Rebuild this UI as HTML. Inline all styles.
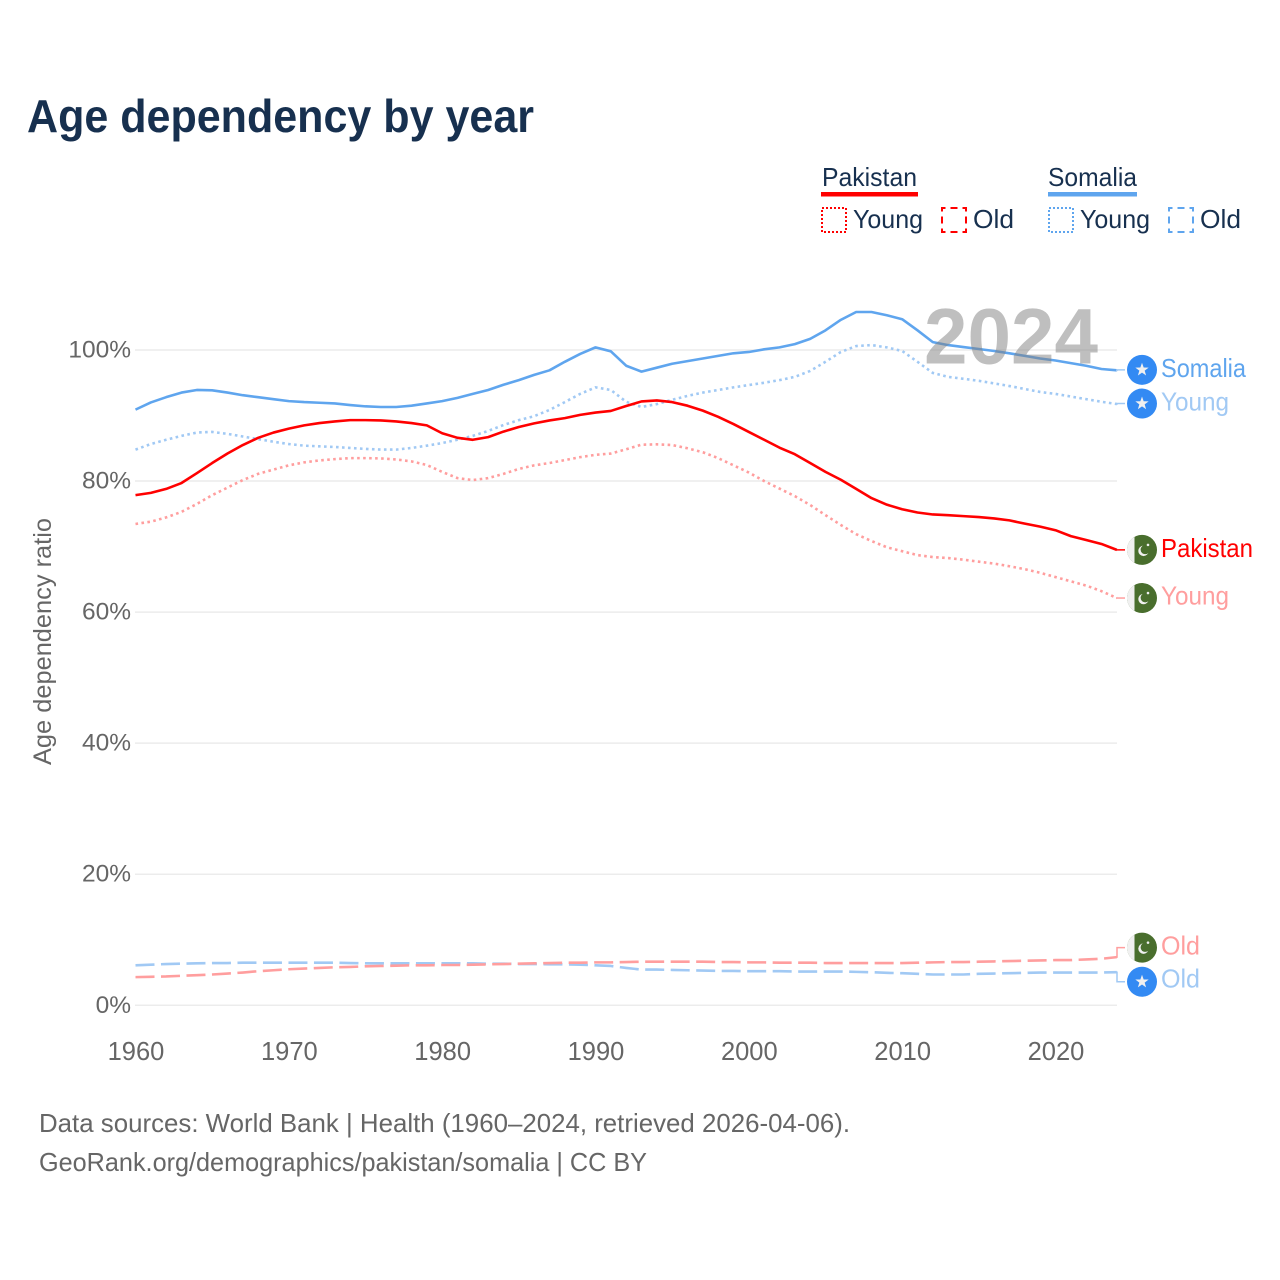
<!DOCTYPE html>
<html lang="en">
<head>
<meta charset="utf-8">
<title>Age dependency by year</title>
<style>
html,body{margin:0;padding:0;background:#fff}
svg{display:block}
text{font-family:"Liberation Sans",sans-serif}
</style>
</head>
<body>
<svg id="chart" xmlns="http://www.w3.org/2000/svg" width="1280" height="1280" viewBox="0 0 1280 1280">
  <rect x="0" y="0" width="1280" height="1280" fill="#fff"/>
  <text x="27" y="132" font-size="46" font-weight="700" fill="#17304f" textLength="507" lengthAdjust="spacingAndGlyphs">Age dependency by year</text>

  <g font-size="26" fill="#17304f">
    <g>
      <text x="822" y="186" textLength="95" lengthAdjust="spacingAndGlyphs">Pakistan</text>
      <rect x="821" y="192" width="97" height="4.5" fill="#ff0000"/>
    </g>
    <g>
      <rect x="822" y="208" width="24" height="24" fill="none" stroke="#ff0000" stroke-width="2" stroke-dasharray="2 2"/>
      <text x="853" y="228" textLength="70" lengthAdjust="spacingAndGlyphs">Young</text>
    </g>
    <g>
      <rect x="942" y="208" width="24" height="24" fill="none" stroke="#ff0000" stroke-width="2" stroke-dasharray="7 5" stroke-dashoffset="3.5"/>
      <text x="973" y="228" textLength="41" lengthAdjust="spacingAndGlyphs">Old</text>
    </g>
    <g>
      <text x="1048" y="186" textLength="89" lengthAdjust="spacingAndGlyphs">Somalia</text>
      <rect x="1048" y="192" width="89" height="4.5" fill="#5fa5ee"/>
    </g>
    <g>
      <rect x="1049" y="208" width="24" height="24" fill="none" stroke="#5fa5ee" stroke-width="2" stroke-dasharray="2 2"/>
      <text x="1080" y="228" textLength="70" lengthAdjust="spacingAndGlyphs">Young</text>
    </g>
    <g>
      <rect x="1169" y="208" width="24" height="24" fill="none" stroke="#5fa5ee" stroke-width="2" stroke-dasharray="7 5" stroke-dashoffset="3.5"/>
      <text x="1200" y="228" textLength="41" lengthAdjust="spacingAndGlyphs">Old</text>
    </g>
  </g>

  <g id="grid"></g>
  <g id="series"></g>
  <g id="end-labels"></g>

  <text x="924" y="363.5" font-size="79" font-weight="700" fill="#808080" fill-opacity="0.5" textLength="174" lengthAdjust="spacingAndGlyphs">2024</text>

  <text transform="translate(51,641.5) rotate(-90)" text-anchor="middle" font-size="25" fill="#666" textLength="247" lengthAdjust="spacingAndGlyphs">Age dependency ratio</text>

  <g font-size="26" fill="#666">
    <text x="39" y="1132" textLength="811" lengthAdjust="spacingAndGlyphs">Data sources: World Bank | Health (1960–2024, retrieved 2026-04-06).</text>
    <text x="39" y="1171" textLength="608" lengthAdjust="spacingAndGlyphs">GeoRank.org/demographics/pakistan/somalia | CC BY</text>
  </g>
</svg>

<script>
const startYear = 1960;
const endYear = 2024;
const xTicks = [1960, 1970, 1980, 1990, 2000, 2010, 2020];
const yTicks = [0, 20, 40, 60, 80, 100];

const somaliaTotal = [90.9,92.0,92.8,93.5,93.9,93.85,93.5,93.1,92.8,92.5,92.2,92.05,91.95,91.85,91.6,91.4,91.3,91.3,91.5,91.85,92.2,92.7,93.3,93.9,94.7,95.4,96.2,96.9,98.2,99.4,100.4,99.8,97.6,96.7,97.3,97.9,98.3,98.7,99.1,99.5,99.7,100.1,100.4,100.9,101.7,103.0,104.6,105.8,105.8,105.3,104.7,103.0,101.2,100.75,100.45,100.15,99.85,99.5,99.1,98.7,98.4,98.0,97.6,97.1,96.9];
const somaliaYoung = [84.8,85.65,86.3,86.9,87.4,87.5,87.2,86.8,86.4,86.0,85.65,85.4,85.3,85.2,85.05,84.9,84.8,84.8,85.05,85.4,85.8,86.3,86.9,87.65,88.55,89.3,89.9,90.85,92.05,93.3,94.3,93.9,92.1,91.3,91.75,92.4,93.0,93.5,93.9,94.3,94.65,95.0,95.4,95.9,96.8,98.2,99.7,100.6,100.75,100.4,99.85,98.2,96.5,95.9,95.6,95.3,94.9,94.5,94.05,93.6,93.3,92.9,92.5,92.1,91.75];
const somaliaOld = [6.1,6.2,6.3,6.35,6.4,6.45,6.45,6.5,6.5,6.5,6.5,6.5,6.5,6.5,6.45,6.4,6.4,6.4,6.4,6.4,6.4,6.4,6.4,6.35,6.35,6.3,6.3,6.25,6.25,6.2,6.1,6.0,5.7,5.45,5.45,5.4,5.35,5.3,5.25,5.25,5.2,5.2,5.2,5.15,5.15,5.15,5.15,5.1,5.05,4.95,4.9,4.8,4.7,4.7,4.7,4.8,4.85,4.9,4.95,5.0,5.0,5.0,5.0,5.0,5.05];
const pakistanTotal = [77.85,78.2,78.8,79.7,81.2,82.75,84.2,85.5,86.6,87.4,88.0,88.5,88.85,89.1,89.3,89.3,89.25,89.1,88.85,88.5,87.3,86.6,86.3,86.7,87.55,88.25,88.8,89.25,89.6,90.1,90.45,90.7,91.45,92.15,92.3,92.05,91.5,90.75,89.8,88.7,87.5,86.3,85.1,84.1,82.75,81.4,80.2,78.8,77.4,76.4,75.7,75.2,74.9,74.8,74.65,74.5,74.3,74.0,73.5,73.05,72.5,71.6,71.0,70.4,69.5];
const pakistanYoung = [73.45,73.8,74.45,75.3,76.5,77.85,79.0,80.15,81.1,81.75,82.4,82.85,83.15,83.35,83.5,83.5,83.45,83.3,83.0,82.45,81.4,80.45,80.15,80.45,81.1,81.85,82.4,82.75,83.2,83.65,84.0,84.2,84.85,85.55,85.6,85.5,85.0,84.4,83.5,82.4,81.3,80.0,78.85,77.7,76.35,74.8,73.3,71.9,70.85,69.9,69.3,68.7,68.4,68.25,68.0,67.7,67.4,67.0,66.55,66.0,65.35,64.7,64.05,63.2,62.15];
const pakistanOld = [4.3,4.35,4.4,4.5,4.6,4.7,4.85,5.0,5.2,5.35,5.5,5.6,5.7,5.8,5.85,5.95,6.0,6.05,6.1,6.1,6.15,6.15,6.2,6.25,6.3,6.35,6.4,6.45,6.5,6.5,6.55,6.55,6.6,6.65,6.65,6.65,6.65,6.65,6.6,6.6,6.55,6.55,6.5,6.5,6.5,6.45,6.45,6.45,6.45,6.45,6.45,6.5,6.55,6.6,6.6,6.65,6.7,6.75,6.8,6.85,6.9,6.9,7.0,7.1,7.35];

const NS = 'http://www.w3.org/2000/svg';
function xScale(year) { return 135.5 + (year - startYear) * 15.333; }
function yScale(v) { return 1005.3 - v * 6.553; }
function make(tag, attrs, parent) {
  const el = document.createElementNS(NS, tag);
  for (const k in attrs) el.setAttribute(k, attrs[k]);
  parent.appendChild(el);
  return el;
}

const RED = '#ff0000', BLUE = '#5fa5ee', PINK = '#ff9e9e', SKY = '#a1c9f4';
const DOTS = '2.6 3.4', DASH = '19 6.5';

const grid = document.getElementById('grid');


yTicks.forEach(function (t) {
  const line = make('line', { x1: 135, x2: 1117, y1: yScale(t), y2: yScale(t), stroke: '#ececec', 'stroke-width': 1.5 }, grid);
  
  
  const label = make('text', { x: 131, y: yScale(t) + 7.5, 'text-anchor': 'end', 'font-size': 24.5, fill: '#666' }, grid);
  
  
  label.textContent = t + '%';
});
xTicks.forEach(function (t) {
  const label = make('text', { x: 136 + (t - startYear) * 15.333, y: 1060, 'text-anchor': 'middle', 'font-size': 25.5, fill: '#666' }, grid);
  
  
  label.textContent = t;
});

function points(values) {
  return values.map(function (v, i) {
    return xScale(startYear + i).toFixed(2) + ',' + yScale(v).toFixed(2);
  }).join(' ');
}
const seriesGroup = document.getElementById('series');


function drawLine(name, values, color, dash) {
  const attrs = { points: points(values), fill: 'none', stroke: color, 'stroke-width': 2.6, 'stroke-linejoin': 'round' };
  if (dash) attrs['stroke-dasharray'] = dash;
  const line = make('polyline', attrs, seriesGroup);
  
  
}
drawLine('somalia-young-line', somaliaYoung, SKY, DOTS);
drawLine('somalia-old-line', somaliaOld, SKY, DASH);
drawLine('somalia-total-line', somaliaTotal, BLUE, null);
drawLine('pakistan-young-line', pakistanYoung, PINK, DOTS);
drawLine('pakistan-old-line', pakistanOld, PINK, DASH);
drawLine('pakistan-total-line', pakistanTotal, RED, null);

const labelsGroup = document.getElementById('end-labels');



function drawFlag(g, country, cy) {
  const cx = 1142;
  if (country === 'somalia') {
    make('circle', { cx: cx, cy: cy, r: 15, fill: '#338af3' }, g);
    const star = [];
    for (let i = 0; i < 10; i++) {
      const r = i % 2 ? 2.8 : 7;
      const a = -Math.PI / 2 + i * Math.PI / 5;
      star.push((cx + r * Math.cos(a)).toFixed(2) + ',' + (cy + r * Math.sin(a)).toFixed(2));
    }
    make('polygon', { points: star.join(' '), fill: '#f0f0f0' }, g);
  } else {
    make('circle', { cx: cx, cy: cy, r: 15, fill: '#496e2d' }, g);
    make('path', { d: 'M' + (cx - 7.5) + ' ' + (cy - 13) + 'A15 15 0 0 0 ' + (cx - 7.5) + ' ' + (cy + 13) + 'Z', fill: '#f0f0f0' }, g);
    make('circle', { cx: cx + 1.5, cy: cy + 1, r: 5.2, fill: '#f0f0f0' }, g);
    make('circle', { cx: cx + 3.2, cy: cy - 0.3, r: 4.6, fill: '#496e2d' }, g);
    make('circle', { cx: cx + 6, cy: cy - 5, r: 1.3, fill: '#f0f0f0' }, g);
  }
}

function drawEndLabel(name, country, text, width, values, shift, lineColor, textColor, textShift) {
  const endY = yScale(values[values.length - 1]);
  const cy = endY + shift;
  const g = make('g', {}, labelsGroup);
  
  
  const d = 'M1116 ' + endY + 'L1117 ' + endY + 'L1117 ' + cy + 'L1125 ' + cy;
  const c = make('path', { d: d, fill: 'none', stroke: lineColor, 'stroke-width': 1.5 }, g);
  
  
  drawFlag(g, country, cy);
  const t = make('text', { x: 1161, y: cy + textShift, 'font-size': 26, fill: textColor, textLength: width, lengthAdjust: 'spacingAndGlyphs' }, g);
  
  
  t.textContent = text;
}
drawEndLabel('end-label-somalia-total', 'somalia', 'Somalia', 85, somaliaTotal, -0.5, SKY, BLUE, 7);
drawEndLabel('end-label-somalia-young', 'somalia', 'Young', 68, somaliaYoung, -0.5, SKY, SKY, 7);
drawEndLabel('end-label-pakistan-total', 'pakistan', 'Pakistan', 92, pakistanTotal, 0, RED, RED, 7);
drawEndLabel('end-label-pakistan-young', 'pakistan', 'Young', 68, pakistanYoung, 0, PINK, PINK, 6.5);
drawEndLabel('end-label-pakistan-old', 'pakistan', 'Old', 39, pakistanOld, -9.5, PINK, PINK, 7);
drawEndLabel('end-label-somalia-old', 'somalia', 'Old', 39, somaliaOld, 9.5, SKY, SKY, 6);
</script>
</body>
</html>
